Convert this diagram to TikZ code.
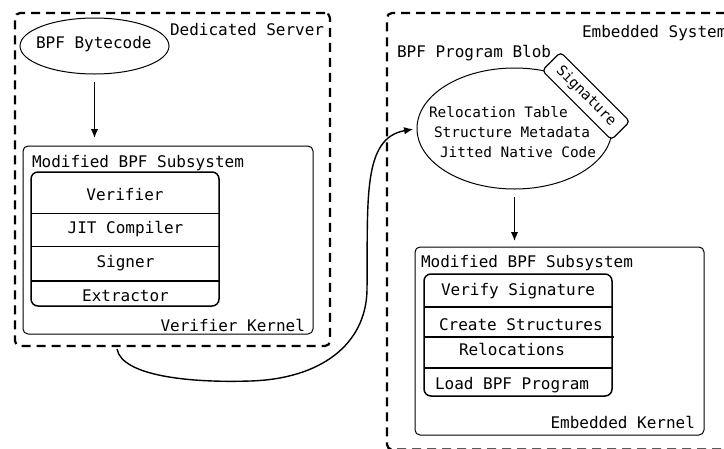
\documentclass[tikz,border=0pt]{standalone}
\usepackage{fontspec}
\setmonofont{DejaVu Sans Mono}
\usetikzlibrary{shapes.geometric,arrows.meta}

\begin{document}
\begin{tikzpicture}[x=1pt,y=-1pt,
  every node/.style={font=\ttfamily\fontsize{16}{19}\selectfont, inner sep=0pt, outer sep=0pt},
  small/.style={font=\ttfamily\fontsize{14.4}{17}\selectfont},
  dashbox/.style={draw, line width=2.2pt, dash pattern=on 9pt off 6pt, rounded corners=5pt},
  kernelbox/.style={draw, line width=1pt, rounded corners=5pt},
  stackbox/.style={draw, line width=1.5pt, rounded corners=7pt},
  divider/.style={line width=1.5pt},
  blobshape/.style={draw, ellipse, line width=1pt},
  sigbox/.style={draw, fill=white, line width=1.2pt, rounded corners=4pt,
                 minimum width=98pt, minimum height=26pt, small},
  arrow/.style={line width=1.4pt, -{Latex[length=9pt,width=7.5pt]}},
  lbl/.style={anchor=base west},
  clbl/.style={anchor=base}]

\clip (0,0) rectangle (724,448);

% machines
\node[dashbox, minimum width=315pt, minimum height=333pt] (ded) at (172.5,179.5) {};
\node[dashbox, minimum width=358pt, minimum height=436.5pt] (emb) at (566,231.25) {};
\node[lbl] (dedtitle) at (170,35) {Dedicated Server};
\node[lbl] (embtitle) at (582,37) {Embedded System};

% verifier side
\node[blobshape, minimum width=149pt, minimum height=56pt] (bytecode) at (94.5,46) {};
\node[lbl] (bytecodetxt) at (36,48) {BPF Bytecode};

\node[kernelbox, minimum width=290pt, minimum height=188pt] (vk) at (168,240) {};
\node[lbl] (vksub) at (32,167) {Modified BPF Subsystem};
\node[anchor=base east] (vkname) at (305,331) {Verifier Kernel};

\node[stackbox, minimum width=188pt, minimum height=134pt] (stackL) at (125,239) {};
\foreach \yy in {213.3,246.7,281}
  \draw[divider] (stackL.west |- 0,\yy) -- (stackL.east |- 0,\yy);
\node[clbl] (verifier) at (125,200) {Verifier};
\node[clbl] (jit) at (125.5,233) {JIT Compiler};
\node[clbl] (signer) at (125.5,267) {Signer};
\node[clbl] (extractor) at (125.5,301) {Extractor};

% embedded side
\node[lbl] (blobtitle) at (397,57) {BPF Program Blob};
\node[blobshape, minimum width=195pt, minimum height=121pt] (blob) at (514.5,128.5) {};
\node[lbl, small] (reloctab) at (429,117) {Relocation Table};
\node[lbl, small] (structmeta) at (434,137) {Structure Metadata};
\node[lbl, small] (jitted) at (440,157) {Jitted Native Code};
\node[sigbox, rotate=-45] (sig) at (586,96) {Signature};

\node[kernelbox, minimum width=289pt, minimum height=188pt] (ek) at (559.5,341) {};
\node[lbl] (eksub) at (421,267) {Modified BPF Subsystem};
\node[anchor=base east] (ekname) at (695,428) {Embedded Kernel};

\node[stackbox, minimum width=188pt, minimum height=122pt] (stackR) at (518,335) {};
\draw[divider] (stackR.west |- 0,307) -- (stackR.east |- 0,307);
\draw[divider] ([xshift=1pt]stackR.west |- 0,337) -- ([xshift=2pt]stackR.east |- 0,337);
\draw[divider] (stackR.west |- 0,368) -- (stackR.east |- 0,368);
\node[lbl] (versig) at (441,295) {Verify Signature};
\node[lbl] (createst) at (439,330) {Create Structures};
\node[lbl] (relocs) at (459,355) {Relocations};
\node[lbl] (loadprog) at (435,389) {Load BPF Program};

% flow
\draw[arrow, shorten <=8pt, shorten >=8pt] (bytecode.south) -- (bytecode.south |- vk.north);
\draw[arrow, shorten <=8pt, shorten >=6pt] (blob.south) -- (blob.south |- ek.north);
\coordinate (handoff) at (117,349);
\draw[arrow, shorten >=4pt] (handoff) .. controls (122,376) and (190,383) .. (250,381)
  .. controls (320,379) and (366,345) .. (367,290)
  .. controls (368,200) and (362,138) .. (blob.west);

\end{tikzpicture}
\end{document}
